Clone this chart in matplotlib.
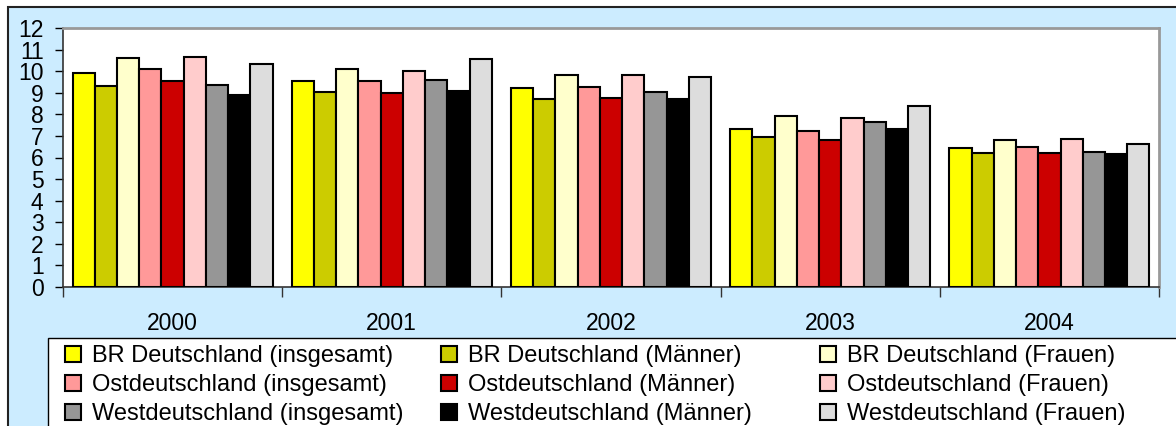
import matplotlib
matplotlib.use("Agg")
import matplotlib.pyplot as plt
from matplotlib.patches import Rectangle
import numpy as np

plt.rcParams['font.family'] = ['Liberation Sans', 'DejaVu Sans']

years = ["2000", "2001", "2002", "2003", "2004"]
series_names = [
    "BR Deutschland (insgesamt)", "BR Deutschland (Männer)", "BR Deutschland (Frauen)",
    "Ostdeutschland (insgesamt)", "Ostdeutschland (Männer)", "Ostdeutschland (Frauen)",
    "Westdeutschland (insgesamt)", "Westdeutschland (Männer)", "Westdeutschland (Frauen)",
]
br_insgesamt = [9.92, 9.54, 9.20, 7.32, 6.44]
br_maenner = [9.30, 9.03, 8.72, 6.93, 6.19]
br_frauen = [10.59, 10.11, 9.82, 7.94, 6.83]
ost_insgesamt = [10.12, 9.54, 9.25, 7.23, 6.50]
ost_maenner = [9.54, 9.01, 8.75, 6.80, 6.21]
ost_frauen = [10.65, 10.03, 9.83, 7.82, 6.87]
west_insgesamt = [9.34, 9.59, 9.02, 7.66, 6.27]
west_maenner = [8.89, 9.10, 8.70, 7.34, 6.16]
west_frauen = [10.31, 10.58, 9.75, 8.39, 6.64]
yticks = list(range(0, 13))

series_values = [br_insgesamt, br_maenner, br_frauen,
                 ost_insgesamt, ost_maenner, ost_frauen,
                 west_insgesamt, west_maenner, west_frauen]
colors = ["#FFFF00", "#CCCC00", "#FFFFCC", "#FF9999", "#CC0000", "#FFCCCC",
          "#969696", "#000000", "#DDDDDD"]

W, H = 1176, 426
fig = plt.figure(figsize=(W / 100, H / 100), dpi=100)
fig.patch.set_facecolor("white")

# outer chart area frame
fig.patches.append(Rectangle((8 / W, -0.05), 1.1, 1 - 7 / H + 0.05, transform=fig.transFigure,
                             facecolor="#CCECFF", edgecolor="#222222", linewidth=1.5, zorder=0))
# legend frame
fig.patches.append(Rectangle((48 / W, -0.05), 1.1, 1 - 338 / H + 0.05, transform=fig.transFigure,
                             facecolor="white", edgecolor="black", linewidth=1.0, zorder=1))

ax = fig.add_axes([63 / W, 1 - 287 / H, (1159 - 63) / W, (287 - 28) / H])
ax.set_zorder(3)
ax.set_facecolor("white")

n = len(series_values)
x = np.arange(len(years))
bw = 0.9124 / n
handles = []
for i, (vals, c, name) in enumerate(zip(series_values, colors, series_names)):
    b = ax.bar(x + (i - (n - 1) / 2) * bw, vals, width=bw, color=c, edgecolor="black",
               linewidth=1.5, label=name, zorder=3)
    handles.append(b)

ax.set_xlim(-0.5, len(years) - 0.5)
ax.set_ylim(0, 12)
ax.set_yticks(yticks)
ax.set_yticklabels([str(t) for t in yticks])
ax.tick_params(axis="y", direction="out", length=6, width=1, labelsize=16.5, pad=8, colors="black")
ax.set_xticks(np.arange(-0.5, len(years), 1.0))
ax.set_xticklabels([])
ax.set_xticks(x, minor=True)
ax.set_xticklabels(years, minor=True)
ax.tick_params(axis="x", which="major", direction="out", length=7, width=1, color="#333333")
ax.tick_params(axis="x", which="minor", length=0, labelsize=16.5, pad=18)

for s in ["top", "right"]:
    ax.spines[s].set_color("#999999")
    ax.spines[s].set_linewidth(2)
for s in ["left", "bottom"]:
    ax.spines[s].set_color("#333333")
    ax.spines[s].set_linewidth(1.2)

col_x = [65, 441, 820]
for c in range(3):
    hs = [handles[c + 3 * r] for r in range(3)]
    ls = [series_names[c + 3 * r] for r in range(3)]
    leg = fig.legend(hs, ls, loc="upper left", bbox_to_anchor=(col_x[c] / W, 1 - 345 / H),
                     frameon=False, fontsize=17, handlelength=0.66, handleheight=0.66,
                     handletextpad=0.48, labelspacing=0.3, borderpad=0, borderaxespad=0)
    leg.set_zorder(5)

fig.savefig("out.png", dpi=100, facecolor=fig.get_facecolor())
